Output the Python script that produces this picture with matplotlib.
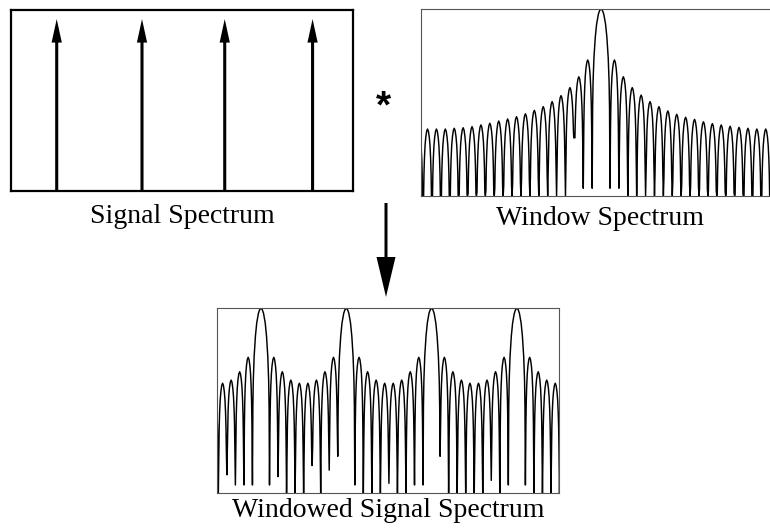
import numpy as np
import matplotlib.pyplot as plt

W, H = 770, 529

# signal spectrum: four tones, positions in bins relative to the first tone
signal_freqs = [0.0, 10.0, 19.7, 30.0]
signal_amps = [0.95, 0.95, 0.95, 0.95]

# window spectrum (log magnitude, 0..1 of the box height)
window_nulls = [-21, -20, -19, -18, -17, -16, -15, -14, -13, -12, -11, -10, -9, -8, -7,
                -6, -5, -4, -3, -2, -1,
                1, 2, 3, 4, 5, 6, 7, 8, 9, 10, 11, 12, 13, 14, 15, 16, 17, 18, 19, 20, 21]
window_peaks = [0.357, 0.357, 0.357, 0.357, 0.361, 0.364, 0.370, 0.379, 0.388, 0.400,
                0.411, 0.423, 0.439, 0.457, 0.477, 0.504, 0.536, 0.579, 0.637, 0.727,
                1.0,
                0.727, 0.637, 0.579, 0.539, 0.504, 0.477, 0.454, 0.436, 0.420, 0.409,
                0.396, 0.386, 0.379, 0.372, 0.366, 0.361, 0.357, 0.357, 0.357, 0.357]
window_depths = [0, 0, 0, 0, 0, 0, 0, 0, 0, 0, 0, 0, 0, 0, 0, 0, 0, 0, 0.31, 0.04, 0.04,
                 0.04, 0.04, 0, 0, 0, 0, 0, 0, 0, 0, 0, 0, 0, 0, 0, 0, 0, 0, 0, 0, 0]

# windowed signal spectrum
windowed_nulls = [-6, -5, -4, -3, -2, -1,
                  1, 2, 3, 4, 5, 6, 7, 8, 9,
                  11, 12, 13, 14, 15, 16, 17, 18, 19,
                  21, 22, 23, 24, 25, 26, 27, 28, 29,
                  31, 32, 33, 34, 35, 36]
windowed_peaks = [0.595, 0.595, 0.612, 0.657, 0.735,
                  1.0,
                  0.735, 0.657, 0.612, 0.595, 0.595, 0.612, 0.657, 0.735,
                  1.0,
                  0.735, 0.657, 0.612, 0.595, 0.595, 0.612, 0.657, 0.735,
                  1.0,
                  0.735, 0.657, 0.612, 0.595, 0.595, 0.612, 0.657, 0.735,
                  1.0,
                  0.735, 0.657, 0.612, 0.595, 0.595]
windowed_depths = [0, 0, 0.1, 0.045, 0.045, 0.045,
                   0.045, 0.09, 0, 0, 0, 0.15, 0, 0.125, 0.2,
                   0.045, 0, 0, 0, 0.054, 0, 0, 0.045, 0.045,
                   0.2, 0, 0, 0, 0, 0, 0.07, 0, 0.045,
                   0.045, 0, 0, 0, 0, 0]

# shape of one lobe (fraction across the lobe, drop below its peak)
SIDE_T = np.array([0.06, 0.1, 0.15, 0.22, 0.3, 0.4, 0.5, 0.6, 0.7, 0.78, 0.85, 0.9, 0.94])
SIDE_DROP = np.array([0.36, 0.24, 0.16, 0.09, 0.045, 0.012, 0, 0.012, 0.045, 0.09, 0.16, 0.24, 0.36])
MAIN_U = np.array([-0.95, -0.9, -0.8, -0.65, -0.5, -0.3, -0.15, 0, 0.15, 0.3, 0.5, 0.65, 0.8, 0.9, 0.95])
MAIN_DROP = np.array([0.53, 0.39, 0.26, 0.15, 0.08, 0.027, 0.007, 0, 0.007, 0.027, 0.08, 0.15, 0.26, 0.39, 0.53])


def lobe_curve(nulls, peaks, depths):
    xs, ys = [], []
    for i in range(len(peaks)):
        a, b = nulls[i], nulls[i + 1]
        xs.append(a)
        ys.append(depths[i])
        if b - a > 1.5:
            t = (MAIN_U + 1) / 2
            drop = MAIN_DROP
        else:
            t = SIDE_T
            drop = SIDE_DROP
        floor = np.where(t < 0.5, depths[i], depths[i + 1])
        xs.extend(a + (b - a) * t)
        ys.extend(np.maximum(peaks[i] - drop, floor))
    xs.append(nulls[-1])
    ys.append(depths[-1])
    return xs, ys


def px_axes(fig, x0, y0, x1, y1):
    return fig.add_axes([x0 / W, 1 - y1 / H, (x1 - x0) / W, (y1 - y0) / H])


def box_style(ax, lw, color):
    ax.set_xticks([])
    ax.set_yticks([])
    for s in ax.spines.values():
        s.set_linewidth(lw)
        s.set_color(color)


fig = plt.figure(figsize=(W / 100, H / 100), dpi=100)
serif = "Liberation Serif"

# signal spectrum
ax1 = px_axes(fig, 11, 10, 353, 191)
box_style(ax1, 1.6, "black")
ax1.set_xlim(-5.36, 34.74)
ax1.set_ylim(0, 1)
for f, a in zip(signal_freqs, signal_amps):
    ax1.arrow(f, 0, 0, a, width=0.36, head_width=1.2, head_length=0.13,
              length_includes_head=True, color="black", lw=0)

# window spectrum
ax2 = px_axes(fig, 421.3, 9, 421.3 + 40.4 * 8.9, 195.7)
box_style(ax2, 0.8, "#555555")
ax2.set_xlim(-20.2, 20.2)
ax2.set_ylim(0, 1)
wx, wy = lobe_curve(window_nulls, window_peaks, window_depths)
ax2.plot(wx, wy, color="black", lw=1.05)

# windowed signal spectrum
ax3 = px_axes(fig, 217.3, 308.3, 559, 493.3)
box_style(ax3, 0.8, "#555555")
ax3.set_xlim(-5.12, 34.94)
ax3.set_ylim(0, 1)
sx, sy = lobe_curve(windowed_nulls, windowed_peaks, windowed_depths)
ax3.plot(sx, sy, color="black", lw=1.05)

# overlay for labels, the convolution sign and the arrow
ov = fig.add_axes([0, 0, 1, 1])
ov.set_xlim(0, W)
ov.set_ylim(H, 0)
ov.axis("off")
ov.patch.set_alpha(0)
ov.arrow(386, 203, 0, 94, width=3, head_width=19, head_length=40,
         length_includes_head=True, color="black", lw=0)
ov.text(383, 117, "*", fontsize=28, fontweight="bold", family="Liberation Sans",
        ha="center", va="baseline")
ov.text(182, 223, "Signal Spectrum", fontsize=20, family=serif, ha="center", va="baseline")
ov.text(600, 225, "Window Spectrum", fontsize=20, family=serif, ha="center", va="baseline")
ov.text(388, 517, "Windowed Signal Spectrum", fontsize=20, family=serif,
        ha="center", va="baseline")

fig.savefig("out.png", dpi=100)
